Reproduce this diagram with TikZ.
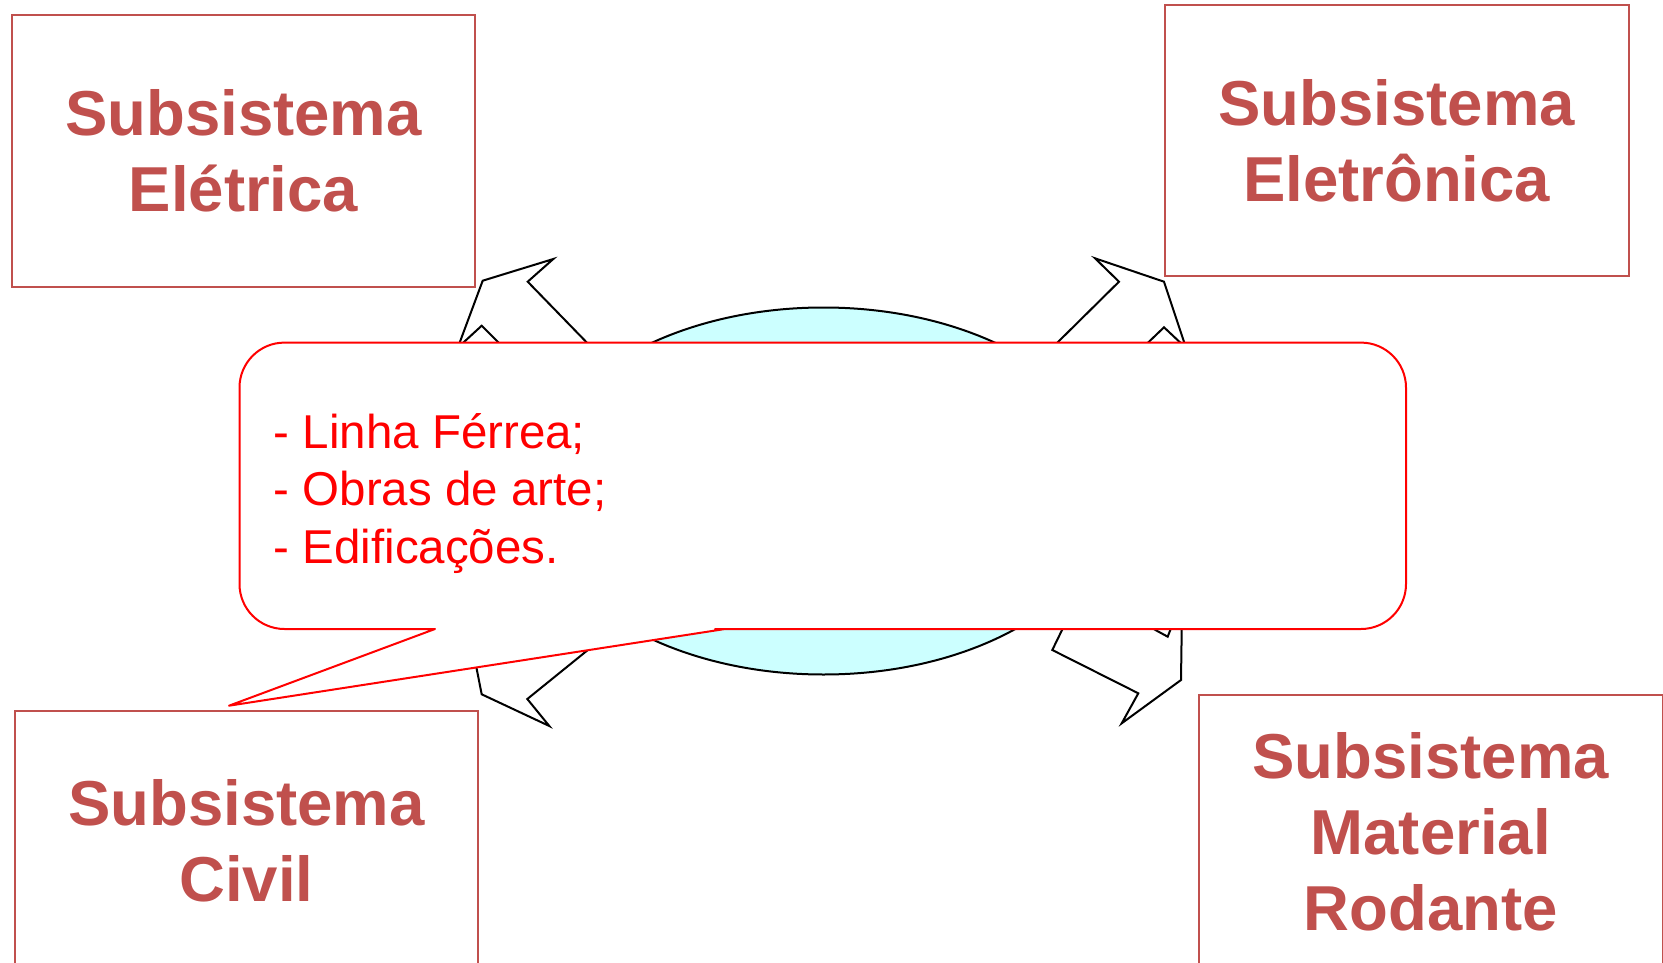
\documentclass[tikz,border=0pt]{standalone}
\usepackage{fontspec}
\setmainfont{Liberation Sans}
\definecolor{boxred}{RGB}{192,80,77}
\definecolor{ellcyan}{RGB}{204,255,255}
\definecolor{callred}{RGB}{255,0,0}
\tikzset{
  subbox/.style={draw=boxred, line width=2pt, rectangle, inner sep=0pt,
    text=boxred, align=center, font=\bfseries\fontsize{63.5}{76}\selectfont},
  arrowshape/.style={draw=black, line width=2pt, fill=white, line join=miter},
  calloutshape/.style={draw=callred, line width=2pt, fill=white, line join=round},
  listline/.style={text=callred, anchor=base west, inner sep=0pt,
    font=\fontsize{47.5}{57}\selectfont}
}
\begin{document}
\begin{tikzpicture}[x=1pt,y=-1pt]
\useasboundingbox (0,0) rectangle (1663,963);
\clip (0,0) rectangle (1663,963);

% subsystem boxes
\node[subbox, minimum width=463pt, minimum height=271pt] (eletrica) at (243.5,151) {Subsistema\\Elétrica};
\node[subbox, minimum width=464pt, minimum height=271pt] (eletronica) at (1396.7,140.5) {Subsistema\\Eletrônica};
\node[subbox, minimum width=463.6pt, minimum height=260pt] (civil) at (246.5,841) {Subsistema\\Civil};
\node[subbox, minimum width=464pt, minimum height=273pt] (rodante) at (1430.7,831.6) {Subsistema\\Material\\Rodante};

% arrows (partly hidden by the callout)
\coordinate (tlA) at (452.6,362);
\draw[arrowshape] (tlA) -- (460,341.7) -- (482.7,280.7) -- (553.3,259) -- (527.7,281.7) -- (586,341.7) -- (606,362) -- cycle;
\draw[arrowshape] (453.4,351.7) -- (464.3,341.7) -- (481.7,325.7) -- (497.7,341.7) -- (507.7,351.7) -- cycle;

\coordinate (trA) at (1038,362);
\draw[arrowshape] (trA) -- (1058.3,341.7) -- (1119,281.7) -- (1095,258.3) -- (1164,281.7) -- (1184,341.7) -- (1190.6,362) -- cycle;
\draw[arrowshape] (1138,352) -- (1149,341.7) -- (1164,327.3) -- (1179.3,341.7) -- (1190,352) -- cycle;

\coordinate (blA) at (472,645);
\draw[arrowshape] (blA) -- (476.7,669) -- (481.7,694.3) -- (549.3,726) -- (527.3,699) -- (585,652.3) -- (613.9,629) -- (560,610) -- cycle;

\coordinate (brA) at (1071,611);
\draw[arrowshape] (brA) -- (1061.7,630.7) -- (1052.3,650) -- (1138.3,693.3) -- (1121.7,723.3) -- (1181,680) -- (1181.7,630.7) -- (1182,611) -- cycle;
\draw[arrowshape] (1140,621) -- (1156.7,630.7) -- (1167.7,636.7) -- (1170,630.7) -- (1174,620) -- cycle;

% central ellipse
\path[draw=black, line width=2pt, fill=ellcyan] (823.5,491) ellipse [x radius=291, y radius=183.5];
\node[inner sep=0pt] (centre) at (823.5,491) {};

% callout
\path[calloutshape] (800,342.6) [rounded corners=45pt] -- (1406,342.6) -- (1406,629) -- (760,629)
  [sharp corners] -- (725,629) -- (229,705.7) -- (435,629) -- (400,629)
  [rounded corners=45pt] -- (239.5,629) -- (239.5,342.6) -- cycle;

\node[listline] (l1) at (273.5,448.3) {- Linha Férrea;};
\node[listline] (l2) at (273.5,505.5) {- Obras de arte;};
\node[listline] (l3) at (273.5,563) {- Edificações.};
\end{tikzpicture}
\end{document}
